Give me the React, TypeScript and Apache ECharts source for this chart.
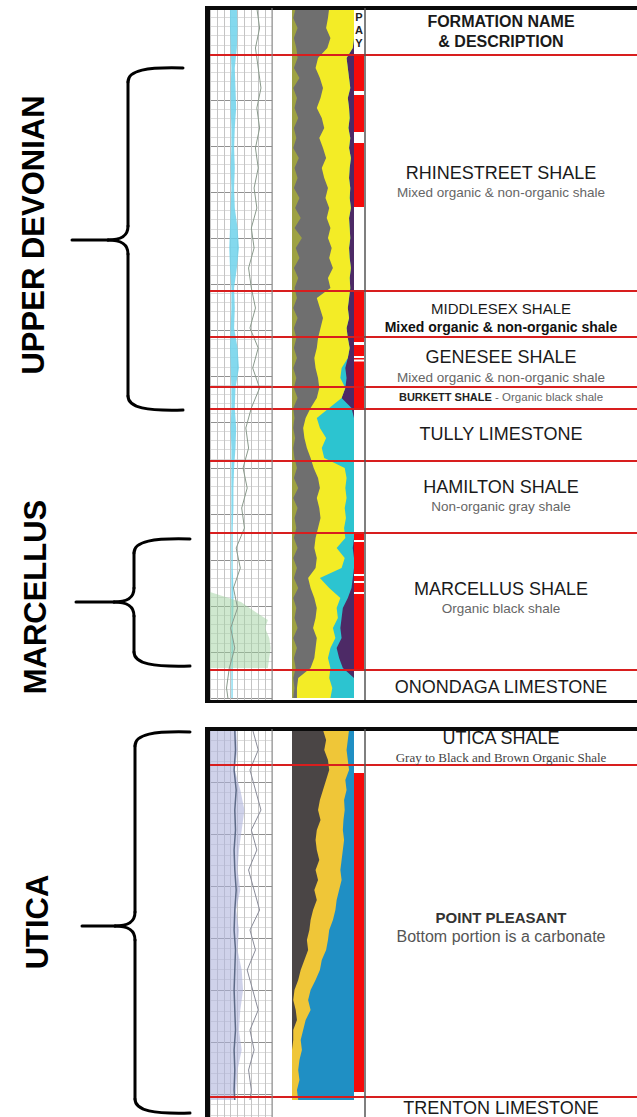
import React, { useEffect, useRef } from "react";
import * as echarts from "echarts";

const FONT = '"Liberation Sans", Arial, Helvetica, sans-serif';
const SERIF = '"Liberation Serif", "Times New Roman", serif';

// ---------------- TOP PANEL (Devonian section) ----------------
const TOP_MAX = 692;
const DEPTH_T = [0,10,20,30,40,50,60,70,80,90,100,110,120,130,140,150,160,170,180,190,200,210,220,230,240,250,260,270,280,290,300,310,320,330,340,350,360,370,380,390,400,410,420,430,440,450,460,470,480,490,500,510,520,530,540,550,560,570,580,590,600,610,620,630,640,650,660,670,680,690];
// lithology boundaries, % of track width from the left
const OLIVE_T = [6,2,9,3,7, 9,3,12,2,8,4,10,3,7,2,11,4,9,3,12,5,14,4,16,6,12,3,10,4, 8,2,9,3,7, 3,8,2,7,3,9,2, 4,2,5,2,4, 8,3,10,2,9,4,7, 3,9,2,8,3,10,2,7,4,9,2,8,3,6, 2,4,2];
const GRAY_T = [60,58,55,62,57, 42,38,45,50,46,40,48,52,44,50,55,48,52,58,54,60,56,62,58,64,60,66,58,62, 40,45,50,46,42, 40,36,38,42,44,40,30, 22,18,20,24,30, 35,42,45,40,44,46,42, 38,36,40,38,26,30,36,40,38,34,40,38,36,30, 10,8,8];
const YELLOW_T = [100,100,100,100,98, 88,90,92,94,90,92,93,91,94,92,95,93,92,94,93,95,92,93,94,92,93,95,93,94, 92,90,92,88,90, 93,90,80,78,86,80,60, 40,45,55,48,52, 85,88,86,88,85,87,84, 86,72,85,80,45,60,78,72,74,66,70,62,58,62, 60,65,62];
const CYAN_T = [100,100,100,100,98, 88,90,92,94,90,92,93,91,94,92,95,93,92,94,93,95,92,93,94,92,93,95,93,94, 92,90,92,88,90, 93,90,86,88,86,80,96, 100,100,100,100,100, 100,100,100,100,100,100,100, 100,98,100,100,98,96,90,82,80,78,80,72,76,82, 100,100,100];

// log track curves (track units 0..90)
const DEPTH_LT = [0,20,40,60,80,100,120,140,160,180,200,220,240,260,280,300,320,340,360,380,400,420,440,460,480,500,520,540,560,580,600,620,640,660,680,690];
const CYAN_L_T = [29,29,30,31,30,30,31,31,30,31,30,29,28,29,31,31,30,29,30,31,31,30,31,31,31,31,31,31,31,31,31,31,31,31,31,31];
const CYAN_R_T = [39,40,39,36,37,38,36,35,36,35,36,40,42,39,35,36,35,40,42,37,36,38,37,35,34,34,33,33,33,34,34,33,34,33,33,33];
const TRACE_T = [68,72,66,70,74,68,72,66,70,64,68,60,64,56,60,66,58,70,62,72,60,52,56,48,54,46,50,38,44,34,40,30,36,28,24,26];
const GREEN_D = [584,594,604,612,620,630,640,650,660];
const GREEN_R = [0,45,66,84,80,86,88,86,84];

const TOP_FORM_NAMES = ["RHINESTREET SHALE","MIDDLESEX SHALE","GENESEE SHALE","BURKETT SHALE","TULLY LIMESTONE","HAMILTON SHALE","MARCELLUS SHALE","ONONDAGA LIMESTONE"];
const TOP_FORM_DESCS = ["Mixed organic & non-organic shale","Mixed organic & non-organic shale","Mixed organic & non-organic shale","Organic black shale","","Non-organic gray shale","Organic black shale",""];
const TOP_FORM_TOPS = [47,283,329,379,401,453,525,662];
const TOP_FORM_BASES = [283,329,379,401,453,525,662,692];
const TOP_PAY = [[47,83],[87,124],[135,199],[283,334],[337,348],[350,351.5],[353.5,400],[525,532],[534,566],[568,573],[575,584],[586,662]];

// ---------------- BOTTOM PANEL (Utica section) ----------------
const BOT_MAX = 387;
const DEPTH_B = [0,10,20,30,40,50,60,70,80,90,100,110,120,130,140,150,160,170,180,190,200,210,220,230,240,250,260,270,280,290,300,310,320,330,340,350,360,370];
const GRAY_B = [50,55,52,58,60,55,50,45,42,46,40,38,40,44,38,42,36,40,34,30,28,24,26,20,14,10,4,2,6,8,2,2,0,0,0,0,0,0];
const YELLOW_B = [92,90,88,90,92,86,88,84,85,83,82,84,82,80,78,80,76,72,70,66,60,58,55,48,45,38,30,26,30,22,18,14,16,12,10,12,8,10];

const DEPTH_LB = [0,20,40,60,80,100,120,140,160,180,200,220,240,260,280,300,320,340,360,370];
const LAV_R_B = [38,40,36,44,50,46,42,40,44,38,42,40,46,48,44,42,46,40,38,36];
const DARK_B = [36,37,35,38,36,37,35,36,38,36,35,37,36,35,36,37,35,36,35,36];
const TRACE_B = [62,70,58,66,74,60,68,56,64,72,58,66,54,62,70,58,64,56,60,58];

const BOT_FORM_NAMES = ["UTICA SHALE","POINT PLEASANT","TRENTON LIMESTONE"];
const BOT_FORM_DESCS = ["Gray to Black and Brown Organic Shale","Bottom portion is a carbonate",""];
const BOT_FORM_TOPS = [0,35,367];
const BOT_FORM_BASES = [35,367,387];
const BOT_PAY = [[43,362]];

// ---------------- styles ----------------
const TOP_STYLES: any[] = [
  { dy: 0, ts: 18, ds: 13.5, dc: "#666", gap: 19 },
  { dy: -6, ts: 15, ds: 14, dw: "bold", dc: "#111", gap: 19 },
  { dy: -5, ts: 18, ds: 13.5, dc: "#666", gap: 20 },
  { dy: -1, rich: true },
  { dy: -1, ts: 18 },
  { dy: -10, ts: 18, ds: 13.5, dc: "#666", gap: 19 },
  { dy: -12.5, ts: 18, ds: 13.5, dc: "#666", gap: 19 },
  { dy: 2, ts: 18 },
];
const BOT_STYLES: any[] = [
  { dy: -9.5, ts: 18, ds: 13, dfam: SERIF, dc: "#444", gap: 19 },
  { dy: -14, ts: 15, tw: "bold", tc: "#333", ds: 16, dc: "#555", gap: 19 },
  { dy: 1, ts: 18 },
];

function val(v: any, i: number) {
  return typeof v === "number" ? v : v[i];
}

function band(gi: number, depths: number[], left: any, right: any, color: string) {
  return {
    type: "custom",
    xAxisIndex: gi,
    yAxisIndex: gi,
    data: [[0, 0]],
    silent: true,
    clip: true,
    renderItem: (_p: any, api: any) => {
      const pts: number[][] = [];
      for (let i = 0; i < depths.length; i++) pts.push(api.coord([val(left, i), depths[i]]));
      for (let i = depths.length - 1; i >= 0; i--) pts.push(api.coord([val(right, i), depths[i]]));
      return { type: "polygon", shape: { points: pts }, style: { fill: color } };
    },
  };
}

function trace(gi: number, depths: number[], xs: number[], color: string, width = 1) {
  return {
    type: "line",
    xAxisIndex: gi,
    yAxisIndex: gi,
    data: depths.map((d, i) => [xs[i], d]),
    showSymbol: false,
    silent: true,
    lineStyle: { color, width },
  };
}

function pay(gi: number, ranges: number[][]) {
  return {
    type: "custom",
    xAxisIndex: gi,
    yAxisIndex: gi,
    silent: true,
    data: ranges.map((r) => [0, r[0], r[1]]),
    renderItem: (_p: any, api: any) => {
      const a = api.coord([0, api.value(1)]);
      const b = api.coord([1, api.value(2)]);
      return { type: "rect", shape: { x: a[0], y: a[1], width: b[0] - a[0], height: b[1] - a[1] }, style: { fill: "#f50a0a" } };
    },
  };
}

function redLines(gi: number, tops: number[]) {
  return {
    type: "custom",
    xAxisIndex: gi,
    yAxisIndex: gi,
    silent: true,
    z: 10,
    data: tops.filter((t) => t > 0).map((t) => [0, t]),
    renderItem: (params: any, api: any) => {
      const y = api.coord([0, api.value(1)])[1];
      const cs = params.coordSys;
      return { type: "line", shape: { x1: cs.x, y1: y, x2: cs.x + cs.width, y2: y }, style: { stroke: "#d81e1e", lineWidth: 2 } };
    },
  };
}

function names(gi: number, tops: number[], bases: number[], titles: string[], descs: string[], styles: any[]) {
  return {
    type: "custom",
    xAxisIndex: gi,
    yAxisIndex: gi,
    silent: true,
    z: 11,
    data: tops.map((t, i) => [0.5, t, bases[i]]),
    renderItem: (params: any, api: any) => {
      const i = params.dataIndex;
      const s = styles[i];
      const mid = (api.value(1) + api.value(2)) / 2;
      const p = api.coord([0.5, mid]);
      const y = p[1] + s.dy;
      const children: any[] = [];
      if (s.rich) {
        children.push({
          type: "text",
          x: p[0],
          y,
          style: {
            text: `{b|${titles[i]}}{r| - ${descs[i]}}`,
            align: "center",
            verticalAlign: "middle",
            rich: {
              b: { fontFamily: FONT, fontSize: 11, fontWeight: "bold", fill: "#222" },
              r: { fontFamily: FONT, fontSize: 11.5, fill: "#666" },
            },
          },
        });
      } else {
        children.push({
          type: "text",
          x: p[0],
          y,
          style: { text: titles[i], fontFamily: FONT, fontSize: s.ts, fontWeight: s.tw || "normal", fill: s.tc || "#1a1a1a", align: "center", verticalAlign: "middle" },
        });
        if (descs[i]) {
          children.push({
            type: "text",
            x: p[0],
            y: y + s.gap,
            style: { text: descs[i], fontFamily: s.dfam || FONT, fontSize: s.ds, fontWeight: s.dw || "normal", fill: s.dc, align: "center", verticalAlign: "middle" },
          });
        }
      }
      return { type: "group", children };
    },
  };
}

function brace(xe: number, xv: number, xt: number, yt: number, ym: number, yb: number) {
  const st = { stroke: "#000", lineWidth: 3, fill: null, lineCap: "round" };
  const r = 14;
  return [
    { type: "bezierCurve", shape: { x1: xe, y1: yt, x2: xv, y2: yt + r, cpx1: xv + (xe - xv) * 0.35, cpy1: yt - 1, cpx2: xv, cpy2: yt + 2 }, style: st },
    { type: "line", shape: { x1: xv, y1: yt + r, x2: xv, y2: ym - r }, style: st },
    { type: "bezierCurve", shape: { x1: xv, y1: ym - r, x2: xv - 20, y2: ym, cpx1: xv, cpy1: ym - 3, cpx2: xv - 8, cpy2: ym }, style: st },
    { type: "line", shape: { x1: xv - 20, y1: ym, x2: xt, y2: ym }, style: st },
    { type: "bezierCurve", shape: { x1: xv - 20, y1: ym, x2: xv, y2: ym + r, cpx1: xv - 8, cpy1: ym, cpx2: xv, cpy2: ym + 3 }, style: st },
    { type: "line", shape: { x1: xv, y1: ym + r, x2: xv, y2: yb - r }, style: st },
    { type: "bezierCurve", shape: { x1: xv, y1: yb - r, x2: xe, y2: yb, cpx1: xv, cpy1: yb - 2, cpx2: xv + (xe - xv) * 0.35, cpy2: yb + 1 }, style: st },
  ];
}

function vLabel(text: string, x: number, y: number) {
  return {
    type: "text",
    x,
    y,
    rotation: Math.PI / 2,
    style: { text, fontFamily: FONT, fontSize: 31, fontWeight: "bold", fill: "#000", align: "center", verticalAlign: "middle" },
  };
}

function buildOption() {
  const grids = [
    { left: 210, top: 8, width: 62, height: 692 },
    { left: 292, top: 8, width: 62, height: 692 },
    { left: 354, top: 8, width: 10, height: 692 },
    { left: 210, top: 8, width: 427, height: 692 },
    { left: 365, top: 8, width: 272, height: 692 },
    { left: 210, top: 730, width: 62, height: 387 },
    { left: 292, top: 730, width: 62, height: 387 },
    { left: 354, top: 730, width: 10, height: 387 },
    { left: 210, top: 730, width: 427, height: 387 },
    { left: 365, top: 730, width: 272, height: 387 },
  ];
  const xMax = [90, 100, 1, 1, 1, 90, 100, 1, 1, 1];
  const xAxis = grids.map((_, i) => {
    const isLog = i === 0 || i === 5;
    return {
      type: "value",
      gridIndex: i,
      min: 0,
      max: xMax[i],
      show: isLog,
      interval: isLog ? 10 : undefined,
      axisLine: { show: false },
      axisTick: { show: false },
      axisLabel: { show: false },
      splitLine: { show: isLog, lineStyle: { color: "#c4c4c4", width: 1 } },
    };
  });
  const yAxis = grids.map((_, i) => {
    const isLog = i === 0 || i === 5;
    const top = i < 5;
    return {
      type: "value",
      gridIndex: i,
      min: 0,
      max: top ? TOP_MAX : BOT_MAX,
      inverse: true,
      show: isLog,
      interval: isLog ? (top ? 46 : 52) : undefined,
      axisLine: { show: false },
      axisTick: { show: false },
      axisLabel: { show: false },
      splitLine: { show: isLog, lineStyle: { color: "#909090", width: 1 } },
      minorTick: { show: false, splitNumber: 5 },
      minorSplitLine: { show: isLog, lineStyle: { color: "#dcdcdc", width: 1 } },
    };
  });

  const series: any[] = [
    band(0, DEPTH_LT, CYAN_L_T, CYAN_R_T, "rgba(110,210,235,0.85)"),
    band(0, GREEN_D, 0, GREEN_R, "rgba(160,210,160,0.5)"),
    trace(0, DEPTH_LT, TRACE_T, "#8a9a8c"),
    band(1, DEPTH_T, 0, 100, "#4d2a66"),
    band(1, DEPTH_T, 0, CYAN_T, "#2cc4d0"),
    band(1, DEPTH_T, 0, YELLOW_T, "#f3ec26"),
    band(1, DEPTH_T, 0, GRAY_T, "#6f6f6f"),
    band(1, DEPTH_T, 0, OLIVE_T, "rgba(170,175,55,0.8)"),
    pay(2, TOP_PAY),
    redLines(3, TOP_FORM_TOPS),
    names(4, TOP_FORM_TOPS, TOP_FORM_BASES, TOP_FORM_NAMES, TOP_FORM_DESCS, TOP_STYLES),

    band(5, DEPTH_LB, 0, LAV_R_B, "rgba(175,180,220,0.6)"),
    trace(5, DEPTH_LB, DARK_B, "#5d6a86", 1.5),
    trace(5, DEPTH_LB, TRACE_B, "#8a8c99"),
    band(6, DEPTH_B, 0, 100, "#1f8fc4"),
    band(6, DEPTH_B, 0, YELLOW_B, "#efc638"),
    band(6, DEPTH_B, 0, GRAY_B, "#4a4545"),
    pay(7, BOT_PAY),
    redLines(8, BOT_FORM_TOPS),
    names(9, BOT_FORM_TOPS, BOT_FORM_BASES, BOT_FORM_NAMES, BOT_FORM_DESCS, BOT_STYLES),
  ];

  const frame = (y0: number, y1: number, closedBottom: boolean) => {
    const els: any[] = [
      { type: "rect", z: 100, shape: { x: 205, y: y0 - 2, width: 432, height: 4 }, style: { fill: "#0a0a0a" } },
      { type: "rect", z: 100, shape: { x: 205, y: y0 - 2, width: 5, height: y1 - y0 + 2 }, style: { fill: "#0a0a0a" } },
      { type: "line", z: 100, shape: { x1: 272, y1: y0, x2: 272, y2: y1 }, style: { stroke: "#8c8c8c", lineWidth: 1 } },
      { type: "line", z: 100, shape: { x1: 365, y1: y0, x2: 365, y2: y1 }, style: { stroke: "#555", lineWidth: 1.5 } },
    ];
    if (closedBottom) els.push({ type: "rect", z: 100, shape: { x: 205, y: y1, width: 432, height: 3 }, style: { fill: "#0a0a0a" } });
    return els;
  };

  const graphic: any[] = [
    ...frame(8, 700, true),
    ...frame(729, 1117, false),
    { type: "text", z: 101, x: 501, y: 21, style: { text: "FORMATION NAME", fontFamily: FONT, fontSize: 16, fontWeight: "bold", fill: "#1a1a1a", align: "center", verticalAlign: "middle" } },
    { type: "text", z: 101, x: 501, y: 41, style: { text: "& DESCRIPTION", fontFamily: FONT, fontSize: 16, fontWeight: "bold", fill: "#1a1a1a", align: "center", verticalAlign: "middle" } },
    { type: "text", z: 101, x: 359, y: 17, style: { text: "P", fontFamily: FONT, fontSize: 11, fontWeight: "bold", fill: "#222", align: "center", verticalAlign: "middle" } },
    { type: "text", z: 101, x: 359, y: 30, style: { text: "A", fontFamily: FONT, fontSize: 11, fontWeight: "bold", fill: "#222", align: "center", verticalAlign: "middle" } },
    { type: "text", z: 101, x: 359, y: 43, style: { text: "Y", fontFamily: FONT, fontSize: 11, fontWeight: "bold", fill: "#222", align: "center", verticalAlign: "middle" } },
    ...brace(183, 128, 72, 68, 240, 410),
    ...brace(190, 134, 76, 539, 602, 666),
    ...brace(190, 135, 82, 732, 926, 1113),
    vLabel("UPPER DEVONIAN", 33, 235),
    vLabel("MARCELLUS", 35, 597),
    vLabel("UTICA", 37, 922),
  ];

  return {
    animation: false,
    backgroundColor: "#ffffff",
    grid: grids.map((g) => ({ ...g, containLabel: false, show: false })),
    xAxis,
    yAxis,
    series,
    graphic: { elements: graphic },
  };
}

export default function App() {
  const ref = useRef<HTMLDivElement>(null);
  useEffect(() => {
    const chart = echarts.init(ref.current!, null, { renderer: "svg" });
    chart.setOption(buildOption() as any);
    return () => chart.dispose();
  }, []);
  return <div ref={ref} style={{ position: "absolute", left: 0, top: 0, width: 637, height: 1117, background: "#fff" }} />;
}
